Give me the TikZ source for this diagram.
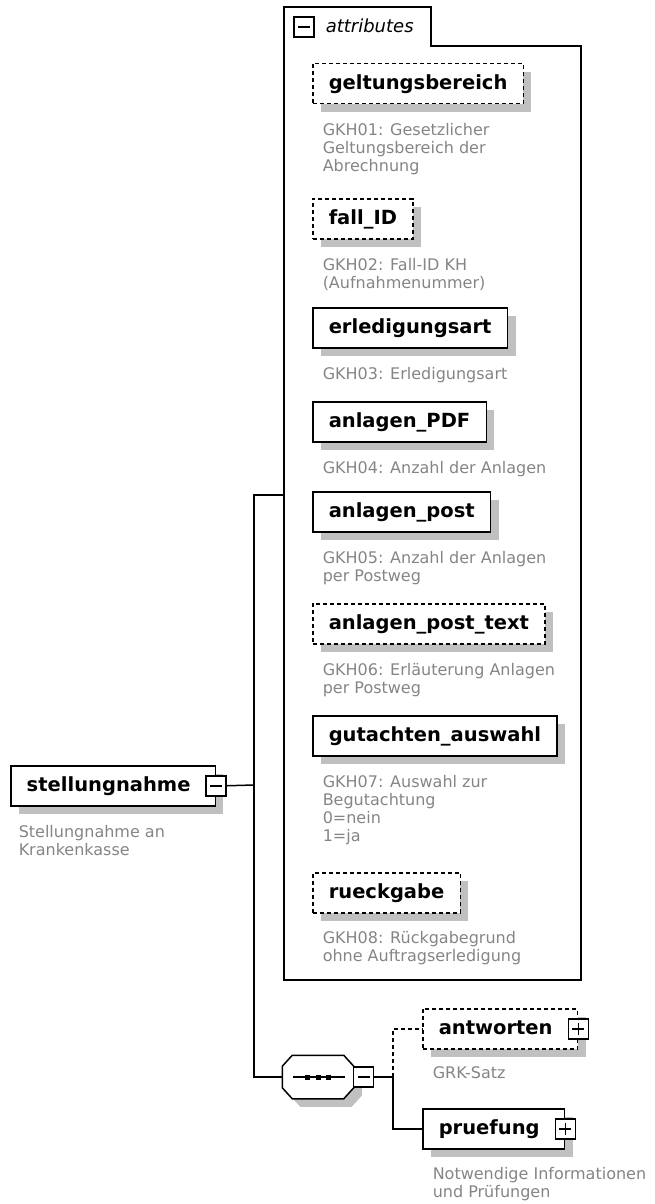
\documentclass[tikz,border=0pt]{standalone}
\usepackage{fontspec}
\setmainfont{DejaVu Sans}
\usetikzlibrary{positioning,shadows}
\definecolor{DescGray}{HTML}{858585}
\definecolor{ShadowGray}{HTML}{C0C0C0}
\newcommand\elemfont{\fontsize{19.5}{22}\selectfont\bfseries}
\newcommand\descfont{\fontsize{16}{18}\selectfont}

\begin{document}
\begin{tikzpicture}[x=1pt,y=-1pt,line width=1.5pt,
    grayshadow/.style={drop shadow={shadow xshift=8pt,shadow yshift=-8pt,opacity=1,fill=ShadowGray}},
    elem/.style={draw,fill=white,anchor=north west,font=\elemfont,
      minimum height=40pt,inner xsep=16pt,inner ysep=0pt,
      text height=16pt,text depth=4pt,grayshadow},
    optelem/.style={elem,dash pattern=on 4pt off 3pt},
    desc/.style={anchor=north west,inner sep=0pt,align=left,text=DescGray,font=\descfont},
    icon/.style={draw,fill=white,minimum size=20pt,inner sep=0pt},
    minusicon/.style={icon,path picture={
        \draw[line width=1.5pt] ([xshift=4pt]path picture bounding box.west)
          -- ([xshift=-4pt]path picture bounding box.east);}},
    plusicon/.style={icon,path picture={
        \draw[line width=1.5pt] ([xshift=4pt]path picture bounding box.west)
          -- ([xshift=-4pt]path picture bounding box.east);
        \draw[line width=1.5pt] ([yshift=-4pt]path picture bounding box.north)
          -- ([yshift=4pt]path picture bounding box.south);}}]
  \useasboundingbox (0,0) rectangle (654,1204);

  % attributes panel
  \draw (284,7) -- (431,7) -- (431,46) -- (581,46) -- (581,980) -- (284,980) -- cycle;
  \node[minusicon] (attrmin) at (304,27) {};
  \node[anchor=base west,inner sep=0pt,font=\fontsize{18}{20}\selectfont\itshape]
    (attrlbl) at (325,33) {attributes};
  \coordinate (attrin) at (284,495);

  % attribute elements (desc: top of first line = baseline - 12)
  \node[optelem] (geltung) at (312,63) {geltungsbereich};
  \node[desc] at (322,123) {GKH01: Gesetzlicher\\Geltungsbereich der\\Abrechnung};
  \node[optelem] (fallid) at (312,198) {fall\_ID};
  \node[desc] at (322,258) {GKH02: Fall-ID KH\\(Aufnahmenummer)};
  \node[elem] (erledigung) at (312,307) {erledigungsart};
  \node[desc] at (322,367) {GKH03: Erledigungsart};
  \node[elem] (anlpdf) at (312,401) {anlagen\_PDF};
  \node[desc] at (322,461) {GKH04: Anzahl der Anlagen};
  \node[elem] (anlpost) at (312,491) {anlagen\_post};
  \node[desc] at (322,551) {GKH05: Anzahl der Anlagen\\per Postweg};
  \node[optelem] (anlposttext) at (312,603) {anlagen\_post\_text};
  \node[desc] at (322,663) {GKH06: Erläuterung Anlagen\\per Postweg};
  \node[elem] (gutachten) at (312,715) {gutachten\_auswahl};
  \node[desc] at (322,775) {GKH07: Auswahl zur\\Begutachtung\\0=nein\\1=ja};
  \node[optelem] (rueckgabe) at (312,872) {rueckgabe};
  \node[desc] at (322,931) {GKH08: Rückgabegrund\\ohne Auftragserledigung};

  % root element
  \node[elem] (stell) at (10,765) {stellungnahme\hspace*{9pt}};
  \node[minusicon] (stellmin) at (stell.east) {};
  \node[desc] at (18,825) {Stellungnahme an\\Krankenkasse};

  % sequence compositor
  \node[minimum width=70pt,minimum height=42pt,inner sep=0pt] (seq) at (318,1077) {};
  \filldraw[fill=white,grayshadow]
    ([xshift=10pt]seq.north west) -- ([xshift=-10pt]seq.north east)
    -- ([yshift=-11pt]seq.north east) -- ([yshift=11pt]seq.south east)
    -- ([xshift=-10pt]seq.south east) -- ([xshift=10pt]seq.south west)
    -- ([yshift=11pt]seq.south west) -- ([yshift=-11pt]seq.north west) -- cycle;
  \draw ([xshift=-25pt]seq.center) -- ([xshift=27pt]seq.center);
  \foreach \dx in {-11,0,10}
    \fill ([xshift=\dx pt]seq.center) +(-2.5,-2.5) rectangle +(2.5,2.5);
  \node[minusicon,anchor=west] (seqmin) at ([xshift=-1pt]seq.east) {};

  % child elements
  \node[optelem] (antw) at (422,1008) {antworten\hspace*{9pt}};
  \node[plusicon] (antwplus) at (antw.east) {};
  \node[desc] at (432,1066) {GRK-Satz};
  \node[elem] (pruef) at (422,1108) {pruefung\hspace*{9pt}};
  \node[plusicon] (pruefplus) at (pruef.east) {};
  \node[desc] at (432,1167) {Notwendige Informationen\\und Prüfungen};

  % connectors
  \coordinate (spine) at (254,785);
  \coordinate (fork) at (393,1077);
  \draw (stellmin.east) -- (spine);
  \draw (attrin) -- (attrin -| spine) -- (seq.west -| spine) -- (seq.west);
  \draw (seqmin.east) -- (fork) |- (pruef.west);
  \draw[dash pattern=on 4pt off 3pt] (fork) |- (antw.west);
\end{tikzpicture}
\end{document}
